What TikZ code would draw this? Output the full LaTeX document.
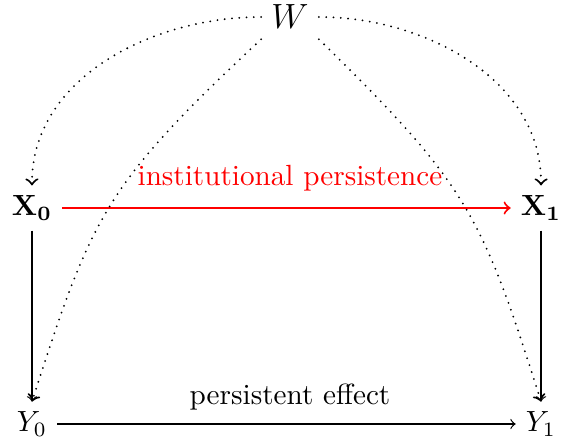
\documentclass[tikz,border=0pt]{standalone}
\usepackage{amsmath}
\begin{document}
\begin{tikzpicture}[x=0.3425pt,y=-0.3425pt, >=to,
  solidarrow/.style={->, line width=0.4pt},
  redarrow/.style={->, line width=0.7pt, red},
  dotarrow/.style={->, line width=0.7pt, dash pattern=on 0pt off 2.5pt, line cap=round},
  lbl/.style={inner sep=2pt}
]
\useasboundingbox (0,0) rectangle (561,444);
\node (W) at (290,17) {\large $W$};
\node (X0) at (32,208) {$\mathbf{X_0}$};
\node (X1) at (541,208) {$\mathbf{X_1}$};
\node (Y0) at (32,424) {$Y_0$};
\node (Y1) at (541,424) {$Y_1$};
\node[lbl, red] (L1) at (290,178) {institutional persistence};
\node[lbl] (L2) at (290,397) {persistent effect};

\draw[redarrow] (X0) -- (X1);
\draw[solidarrow] (X0) -- (Y0);
\draw[solidarrow] (X1) -- (Y1);
\draw[solidarrow] (Y0) -- (Y1);

\draw[dotarrow] (W.west) .. controls (150,17) and (31,80) .. (X0.north);
\draw[dotarrow] (W.east) .. controls (425,17) and (542,80) .. (X1.north);
\draw[dotarrow] (W.south west) .. controls (105,185) and (92,215) .. (Y0.north);
\draw[dotarrow] (W.south east) .. controls (468,185) and (482,215) .. (Y1.north);
\end{tikzpicture}
\end{document}
